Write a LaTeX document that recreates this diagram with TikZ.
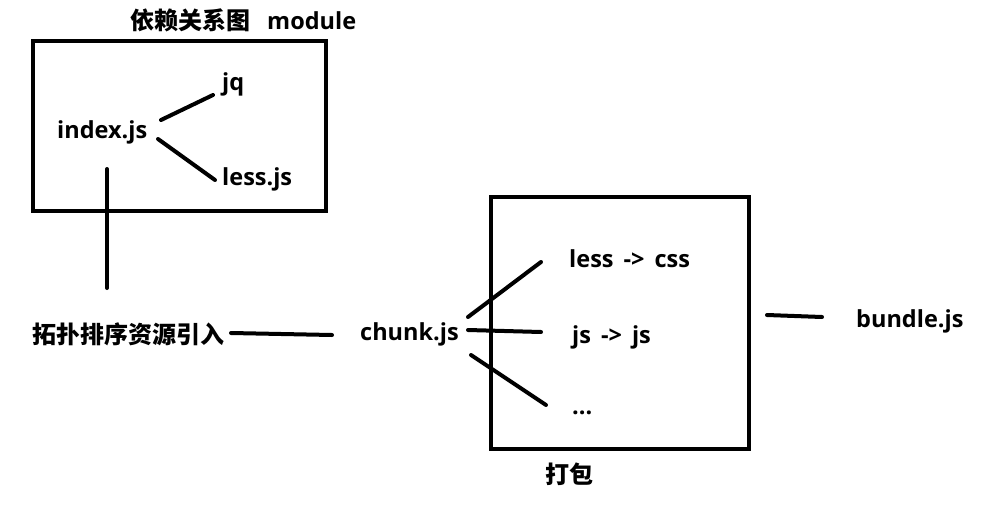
\documentclass[tikz,border=0pt]{standalone}
\usepackage{fontspec}
\setmainfont{Open Sans}
\newfontfamily\cjk{Noto Sans CJK SC}
\begin{document}
\begin{tikzpicture}[x=1pt,y=-1pt,
  lbl/.style={inner sep=0pt,anchor=base west,font=\fontsize{23.5}{26}\selectfont\bfseries},
  clbl/.style={inner sep=0pt,anchor=base west,font=\fontsize{24}{26}\selectfont\cjk\bfseries},
  frame/.style={draw=black,line width=4.3pt},
  wire/.style={draw=black,line width=4pt,line cap=round}]
\useasboundingbox (0,0) rectangle (1002,520);
\fill[white] (0,0) rectangle (1002,520);
% boxes
\draw[frame] (33,41) rectangle (326,211);
\draw[frame] (491,197) rectangle (749,449);
% texts
\node[clbl] (title) at (130,29) {依赖关系图};
\node[lbl] (module) at (267,29) {module};
\node[lbl] (index) at (57,138) {index.js};
\node[lbl] (jq) at (222,90) {jq};
\node[lbl] (lessjs) at (222,185) {less.js};
\node[clbl] (topo) at (32,343) {拓扑排序资源引入};
\node[lbl] (chunk) at (360,340) {chunk.js};
\node[lbl] (lesscss) at (569,267) {less\hspace{10pt}->\hspace{10pt}css};
\node[lbl] (jsjs) at (572,343) {js\hspace{10pt}->\hspace{10pt}js};
\node[lbl] (dots) at (572,414) {...};
\node[lbl] (bundle) at (856,327) {bundle.js};
\node[clbl] (pack) at (545,483) {打包};
% connector end points
\coordinate (a1) at (161,120); \coordinate (a2) at (213,95);
\coordinate (b1) at (158,139); \coordinate (b2) at (215,180);
\coordinate (c1) at (107,169); \coordinate (c2) at (107,288);
\coordinate (d1) at (231,333); \coordinate (d2) at (332,335);
\coordinate (e1) at (468,317); \coordinate (e2) at (541,262);
\coordinate (f1) at (468,330); \coordinate (f2) at (541,332);
\coordinate (g1) at (471,355); \coordinate (g2) at (546,405);
\coordinate (h1) at (767,315); \coordinate (h2) at (822,317);
\draw[wire] (a1) -- (a2);
\draw[wire] (b1) -- (b2);
\draw[wire] (c1) -- (c2);
\draw[wire] (d1) -- (d2);
\draw[wire] (e1) -- (e2);
\draw[wire] (f1) -- (f2);
\draw[wire] (g1) -- (g2);
\draw[wire] (h1) -- (h2);
\end{tikzpicture}
\end{document}
